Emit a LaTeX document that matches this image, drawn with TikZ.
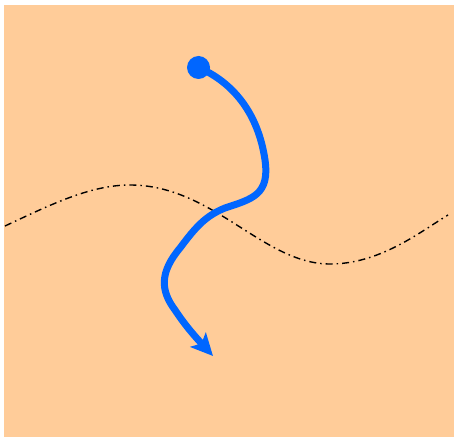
\documentclass[tikz,border=0pt]{standalone}
\usetikzlibrary{arrows.meta}
\definecolor{bgorange}{HTML}{FFCC99}
\definecolor{pathblue}{HTML}{0066FF}
\tikzset{
  wave/.style={line width=1.4pt, dash pattern=on 7pt off 4pt on 1.5pt off 4pt},
  route/.style={pathblue, line width=7pt, line cap=round,
    -{Stealth[length=22pt,width=21pt,inset=5pt]}},
  startdot/.style={circle, fill=pathblue, minimum size=23pt, inner sep=0pt}
}
\begin{document}
\begin{tikzpicture}[x=1pt,y=-1pt]
\useasboundingbox (0,0) rectangle (454,438);
\fill[white] (0,0) rectangle (454,438);
\fill[bgorange] (4,5) rectangle (454,437);
% dash-dotted wave
\draw[wave] (5,226) .. controls (50,205) and (90,185) .. (130,185)
  .. controls (213,185) and (263,264) .. (330,264)
  .. controls (380,264) and (420,232) .. (448,215);
% blue route
\node[startdot] (dot) at (198.5,67.5) {};
\coordinate (tip) at (213,356);
\draw[route] (dot.center) .. controls (232,82) and (258,112) .. (265,160)
  .. controls (270,195) and (252,199) .. (225,208)
  .. controls (205,216) and (195,228) .. (180,248)
  .. controls (160,272) and (160,290) .. (175,310)
  .. controls (183,322) and (190,331) .. (tip);
\end{tikzpicture}
\end{document}
